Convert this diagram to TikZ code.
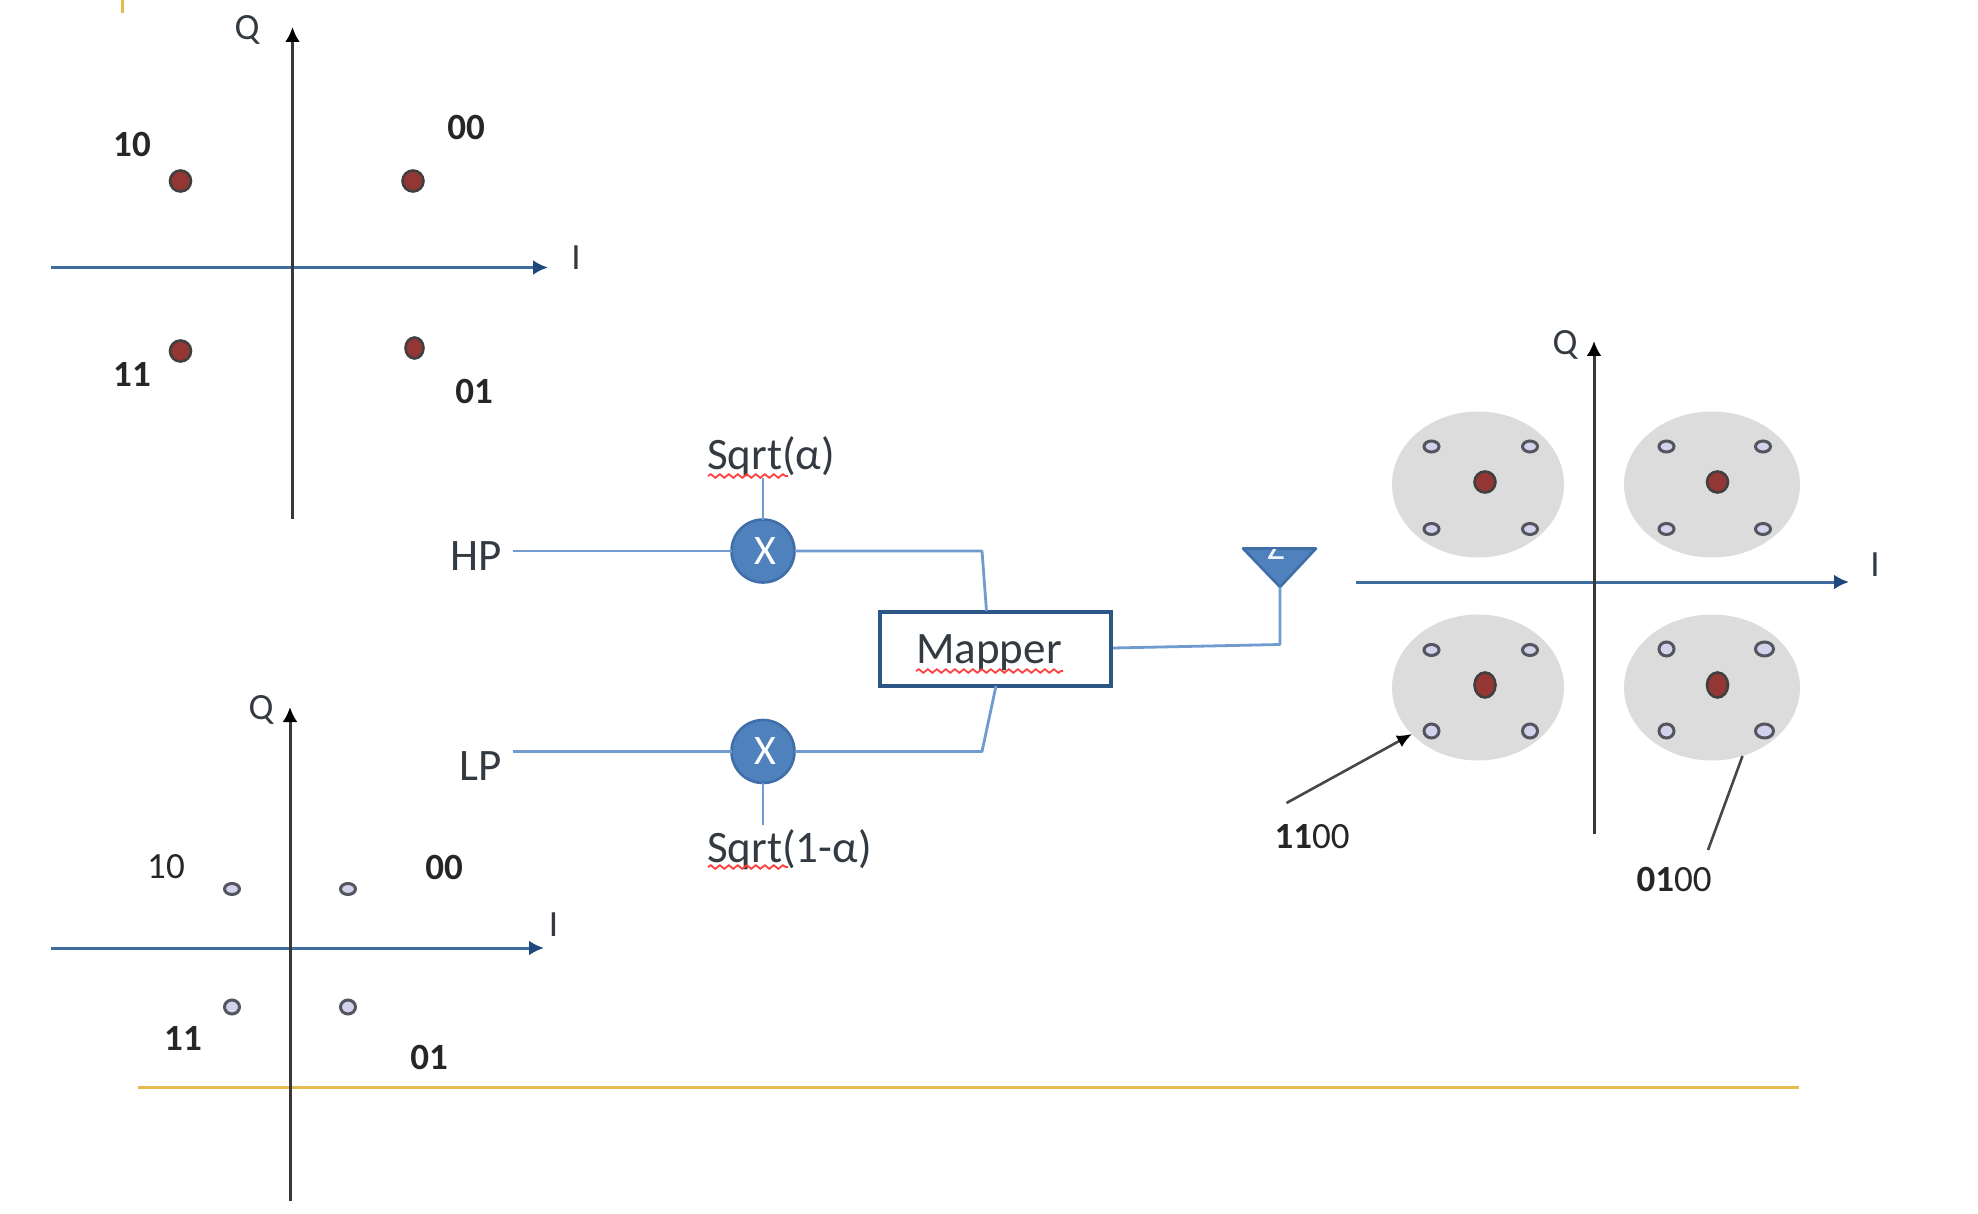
\documentclass[tikz,border=0pt]{standalone}
\usepackage{fontspec}
\setmainfont{Carlito}
\usetikzlibrary{arrows.meta,shapes.geometric,decorations.pathmorphing}
\definecolor{axisblue}{HTML}{3F6C9E}
\definecolor{tipblue}{HTML}{1F497D}
\definecolor{wireblue}{HTML}{6F9BCF}
\definecolor{fillblue}{HTML}{4F81BD}
\definecolor{edgeblue}{HTML}{3F6EA8}
\definecolor{boxblue}{HTML}{2C5686}
\definecolor{goldline}{HTML}{E3BC50}
\definecolor{reddot}{HTML}{943634}
\definecolor{lav}{HTML}{D2D2EC}
\definecolor{ring}{HTML}{55555F}
\definecolor{disc}{HTML}{DCDCDC}
\definecolor{txt}{HTML}{333A42}
\tikzset{
  vaxis/.style={line width=3pt,draw=black!78,-{Latex[length=15pt,width=15pt,black]}},
  haxis/.style={line width=3pt,draw=axisblue,-{Latex[length=15pt,width=15pt,tipblue]}},
  wire/.style={line width=2.8pt,draw=wireblue,line join=round},
  gold/.style={line width=3pt,draw=goldline},
  lead/.style={line width=2.6pt,draw=black!72},
  lab/.style={inner sep=0pt,text=txt,font=\fontsize{45}{52}\selectfont},
  axlab/.style={inner sep=0pt,text=txt,font=\fontsize{37}{44}\selectfont},
  bits/.style={inner sep=0pt,text=black!85,font=\fontsize{37}{44}\selectfont},
  bdot/.style={ellipse,inner sep=0pt,outer sep=0pt,line width=2.6pt,draw=black!75,fill=reddot,minimum width=21pt,minimum height=21pt},
  sdot/.style={ellipse,inner sep=0pt,outer sep=0pt,line width=3pt,draw=ring,fill=lav,minimum width=15pt,minimum height=11pt},
  tdot/.style={sdot,minimum height=14pt},
  blob/.style={ellipse,inner sep=0pt,outer sep=0pt,fill=disc,minimum width=172pt,minimum height=146pt},
  mult/.style={circle,inner sep=0pt,outer sep=0pt,line width=2.6pt,draw=edgeblue,fill=fillblue,minimum size=63pt,text=white,font=\fontsize{42}{48}\selectfont},
  squig/.style={draw=red!75!white,line width=1.8pt,decorate,decoration={snake,amplitude=1.8pt,segment length=9pt}}
}
\begin{document}
\begin{tikzpicture}[x=1pt,y=-1pt]
\useasboundingbox (0,0) rectangle (1978,1214);
\fill[white] (0,0) rectangle (1978,1214);
% gold rule pieces
\coordinate (gt1) at (122.5,0); \coordinate (gt2) at (122.5,13);
\draw[gold] (gt1) -- (gt2);
\coordinate (g1) at (138,1087); \coordinate (g2) at (1799,1087);
\draw[gold] (g1) -- (g2);
% top-left constellation
\coordinate (a1w) at (51,267.5); \coordinate (a1e) at (548,267.5);
\coordinate (a1s) at (292.5,519); \coordinate (a1n) at (292.5,27);
\draw[haxis] (a1w) -- (a1e);
\draw[vaxis] (a1s) -- (a1n);
\node[axlab] (a1q) at (247,30) {Q};
\node[axlab] (a1i) at (576,258) {I};
\node[bdot] (a1d1) at (180.5,181) {};
\node[bdot] (a1d2) at (413,181) {};
\node[bdot] (a1d3) at (180.5,351) {};
\node[bdot,minimum width=18pt] (a1d4) at (414.5,348) {};
\node[bits] (a1l1) at (132,144) {\textbf{10}};
\node[bits] (a1l2) at (466,127) {\textbf{00}};
\node[bits] (a1l3) at (132,374) {\textbf{11}};
\node[bits] (a1l4) at (474,391) {\textbf{01}};
% bottom-left constellation
\coordinate (a2w) at (51,948); \coordinate (a2e) at (544,948);
\coordinate (a2s) at (290,1201); \coordinate (a2n) at (290,707);
\draw[haxis] (a2w) -- (a2e);
\draw[vaxis] (a2s) -- (a2n);
\node[axlab] (a2q) at (261,710) {Q};
\node[axlab] (a2i) at (553.5,925) {I};
\node[sdot] (a2d1) at (232,889) {};
\node[sdot] (a2d2) at (348,889) {};
\node[tdot] (a2d3) at (232,1007) {};
\node[tdot] (a2d4) at (348,1007) {};
\node[bits] (a2l1) at (166,867) {10};
\node[bits] (a2l2) at (444,867) {\textbf{00}};
\node[bits] (a2l3) at (183,1038) {\textbf{11}};
\node[bits] (a2l4) at (429,1057) {\textbf{01}};
% block diagram
\node[lab] (hp) at (476.5,556) {HP};
\node[lab] (lp) at (480.5,766) {LP};
\node[mult] (x1) at (763,551) {};
\node[mult] (x2) at (763,751.5) {};
\node[inner sep=0pt,text=white,font=\fontsize{42}{48}\selectfont] (x1t) at (765,551) {X};
\node[inner sep=0pt,text=white,font=\fontsize{42}{48}\selectfont] (x2t) at (765,751.5) {X};
\node[lab] (s1) at (771,457) {Sqrt(α)};
\node[lab] (s2) at (789.5,850) {Sqrt(1-α)};
\node[rectangle,inner sep=0pt,outer sep=0pt,line width=4pt,draw=boxblue,fill=white,minimum width=231pt,minimum height=74pt] (map) at (995.5,648.5) {};
\node[lab] (maptxt) at (989,653) {Mapper};
\coordinate (hpw) at (513,551); \coordinate (lpw) at (513,751.5);
\coordinate (s1b) at (763,478); \coordinate (s2t) at (763,825);
\coordinate (b1) at (982,551); \coordinate (m1) at (986.5,611);
\coordinate (b2) at (982,751.5); \coordinate (m2) at (996,686);
\coordinate (m3) at (1113,648); \coordinate (b3) at (1280,644.5);
\draw[wire] (hpw) -- (x1.west);
\draw[wire] (lpw) -- (x2.west);
\draw[wire] (s1b) -- (x1.north);
\draw[wire] (s2t) -- (x2.south);
\draw[wire] (x1.east) -- (b1) -- (m1);
\draw[wire] (x2.east) -- (b2) -- (m2);
% squiggles
\coordinate (q1a) at (708,476); \coordinate (q1b) at (788,476);
\coordinate (q2a) at (708,867); \coordinate (q2b) at (788,867);
\coordinate (q3a) at (916,671); \coordinate (q3b) at (1063,671);
\draw[squig] (q1a) -- (q1b);
\draw[squig] (q2a) -- (q2b);
\draw[squig] (q3a) -- (q3b);
% antenna
\coordinate (ta) at (1243,548.5); \coordinate (tb) at (1316,548.5); \coordinate (tc) at (1280,587);
\draw[line width=2.6pt,draw=edgeblue,fill=fillblue,line join=round] (ta) -- (tb) -- (tc) -- cycle;
\begin{scope}
\clip (ta) -- (tb) -- (tc) -- cycle;
\node[inner sep=0pt,text=white!90!fillblue,font=\fontsize{38}{44}\selectfont] (z) at (1276,547) {Z};
\end{scope}
\draw[wire] (m3) -- (b3) -- (tc);
% right constellation
\node[blob] (c1) at (1478,484.5) {};
\node[blob,minimum width=176pt] (c2) at (1712,484.5) {};
\node[blob] (c3) at (1478,687.5) {};
\node[blob,minimum width=176pt] (c4) at (1712,687.5) {};
\coordinate (a3w) at (1356,582); \coordinate (a3e) at (1849,582);
\coordinate (a3s) at (1594,834); \coordinate (a3n) at (1594,341);
\draw[haxis] (a3w) -- (a3e);
\draw[vaxis] (a3s) -- (a3n);
\node[axlab] (a3q) at (1565,345) {Q};
\node[axlab] (a3i) at (1875,565) {I};
\node[bdot] (r1) at (1485,482) {};
\node[bdot] (r2) at (1717.5,482) {};
\node[bdot,minimum height=25pt] (r3) at (1485,685) {};
\node[bdot,minimum height=25pt] (r4) at (1717.5,685) {};
\node[sdot] (p1) at (1431.5,446.5) {};
\node[sdot] (p2) at (1530,446.5) {};
\node[sdot] (p3) at (1431.5,529) {};
\node[sdot] (p4) at (1530,529) {};
\node[sdot] (p5) at (1666.5,446.5) {};
\node[sdot] (p6) at (1763,446.5) {};
\node[sdot] (p7) at (1666.5,529) {};
\node[sdot] (p8) at (1763,529) {};
\node[sdot] (p9) at (1431.5,650) {};
\node[sdot] (p10) at (1530,650) {};
\node[tdot] (p11) at (1431.5,731) {};
\node[tdot] (p12) at (1530,731) {};
\node[tdot] (p13) at (1666.5,649) {};
\node[tdot,minimum width=18pt] (p14) at (1764.5,649) {};
\node[tdot] (p15) at (1666.5,731) {};
\node[tdot,minimum width=18pt] (p16) at (1764.5,731) {};
% callouts
\node[bits] (l1100) at (1312,837) {\textbf{11}00};
\node[bits] (l0100) at (1674,879) {\textbf{01}00};
\coordinate (k1) at (1286.5,803); \coordinate (k2) at (1412,734);
\coordinate (k3) at (1708,850); \coordinate (k4) at (1742.5,756);
\draw[lead,-{Latex[length=15pt,width=13pt,black]}] (k1) -- (k2);
\draw[lead] (k3) -- (k4);
\end{tikzpicture}
\end{document}
